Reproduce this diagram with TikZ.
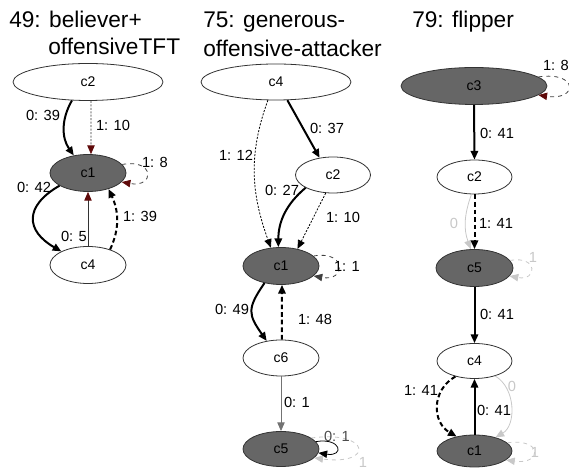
\documentclass[tikz,border=0pt]{standalone}
\usepackage{fontspec}
\setmainfont{Liberation Sans}
\usetikzlibrary{arrows.meta,shapes.geometric}
\definecolor{nodegray}{RGB}{102,102,102}
\definecolor{tipred}{RGB}{95,10,10}
\definecolor{faint}{RGB}{200,200,200}
\begin{document}
\begin{tikzpicture}[x=0.75pt,y=0.75pt,
  statenode/.style={ellipse,draw=black!80,line width=0.6pt,inner sep=0pt,font=\fontsize{10.5}{12}\selectfont},
  whitestate/.style={statenode,fill=white},
  graystate/.style={statenode,fill=nodegray},
  sz/.style 2 args={minimum width=#1*0.75pt,minimum height=#2*0.75pt},
  elabel/.style={inner sep=0pt,font=\fontsize{11}{13}\selectfont},
  faintlabel/.style={elabel,text=faint},
  titletext/.style={inner sep=0pt,anchor=base west,font=\fontsize{17}{20}\selectfont},
  arr/.style={-{Triangle[length=6.5pt,width=5.5pt]}},
  redarr/.style={-{Triangle[length=6.5pt,width=5.5pt,color=tipred]}},
  heavy/.style={line width=1.5pt,arr},
  slim/.style={line width=0.6pt},
  finedash/.style={dash pattern=on 1.5pt off 1.1pt},
  longdash/.style={dash pattern=on 3.5pt off 2.2pt},
  ghost/.style={draw=faint,line width=0.6pt,-{Triangle[length=6.5pt,width=5.5pt,color=faint]}},
]
\useasboundingbox (0,0) rectangle (569,-473);

% ---------- 49: believer+ offensiveTFT ----------
\node[titletext] (t49a) at (9,-28) {49: believer+};
\node[titletext] (t49b) at (48,-55) {offensiveTFT};
\node[whitestate,sz={150}{37}] (A2) at (88,-82) {c2};
\node[graystate,sz={76}{37}] (A1) at (88,-173) {c1};
\node[whitestate,sz={76}{37}] (A4) at (88,-265) {c4};

\draw[heavy] (A2.-131) to[out=-120,in=125] (A1.129);
\draw[slim,finedash,draw=black!80,redarr] (A2.-81) -- (A1.81);
\draw[slim,dashed,draw=black!75,redarr] (A1.14) .. controls +(33,6) and +(33,-6) .. (A1.-15);
\draw[heavy] (A1.-156) to[out=-150,in=150,looseness=1.6] (A4.153);
\draw[slim,draw=black!80,redarr] (A4.90) -- (A1.-90);
\draw[heavy,longdash] (A4.35) to[out=65,in=-65] (A1.-38);

\node[elabel] (a1) at (43,-115) {0: 39};
\node[elabel] (a2) at (113,-125) {1: 10};
\node[elabel] (a3) at (155,-162) {1: 8};
\node[elabel] (a4) at (34,-187) {0: 42};
\node[elabel] (a5) at (74,-236) {0: 5};
\node[elabel] (a6) at (140,-216) {1: 39};

% ---------- 75: generous-offensive-attacker ----------
\node[titletext] (t75a) at (203,-28) {75: generous-};
\node[titletext] (t75b) at (203,-57) {offensive-attacker};
\node[whitestate,sz={150}{36}] (B4) at (276,-82) {c4};
\node[whitestate,sz={75}{36}] (B2) at (333,-175) {c2};
\node[graystate,sz={76}{37}] (B1) at (281,-266) {c1};
\node[whitestate,sz={76}{36}] (B6) at (281,-358) {c6};
\node[graystate,sz={76}{35}] (B5) at (281,-449) {c5};

\draw[heavy] (B4.-58) -- (B2.128);
\draw[slim,finedash,arr] (B4.-114) to[out=-110,in=110] (B1.119);
\draw[heavy] (B2.-155) to[out=-140,in=90] (B1.98);
\draw[slim,finedash,arr] (B2.-112) -- (B1.46);
\draw[slim,dashed,draw=black!75,arr] (B1.17) .. controls +(33,6) and +(33,-6) .. (B1.-17);
\draw[heavy] (B1.-134) to[out=-125,in=125,looseness=1.4] (B6.130);
\draw[heavy,longdash] (B6.87) -- (B1.-87);
\draw[slim,draw=black!55,arr] (B6.-90) -- (B5.90);
\draw[ghost,dashed] (B5.20) .. controls +(60,8) and +(60,-8) .. (B5.-15);
\draw[slim,arr] (B5.12) .. controls +(26,4) and +(26,-4) .. (B5.-6);

\node[elabel] (b1) at (327,-128) {0: 37};
\node[elabel] (b2) at (236,-155) {1: 12};
\node[elabel] (b3) at (282,-190) {0: 27};
\node[elabel] (b4) at (343,-217) {1: 10};
\node[elabel] (b5) at (347,-266) {1: 1};
\node[elabel] (b6) at (232,-309) {0: 49};
\node[elabel] (b7) at (315,-319) {1: 48};
\node[elabel] (b8) at (297,-402) {0: 1};
\node[elabel,text=black!70] (b9) at (337,-436) {0: 1};
\node[faintlabel] (b10) at (363,-462) {1};

% ---------- 79: flipper ----------
\node[titletext] (t79) at (412,-28) {79: flipper};
\node[graystate,sz={146}{37}] (C3) at (474,-86) {c3};
\node[whitestate,sz={75}{34}] (C2) at (474.5,-177) {c2};
\node[graystate,sz={77}{37}] (C5) at (474.5,-268) {c5};
\node[whitestate,sz={75}{35}] (C4) at (474.5,-361) {c4};
\node[graystate,sz={75}{32}] (C1) at (474.5,-451) {c1};

\draw[slim,dashed,draw=black!75,redarr] (C3.8) .. controls +(40,6) and +(40,-6) .. (C3.-8);
\draw[heavy] (C3.-90) -- (C2.90);
\draw[ghost] (C2.-100) to[out=-110,in=110] (C5.101);
\draw[heavy,longdash] (C2.-90) -- (C5.90);
\draw[ghost,dashed] (C5.12) .. controls +(28,5) and +(28,-5) .. (C5.-13);
\draw[heavy] (C5.-90) -- (C4.90);
\draw[heavy,longdash] (C4.-141) to[out=-150,in=150,looseness=1.2] (C1.141);
\draw[heavy] (C1.90) -- (C4.-90);
\draw[ghost] (C4.-36) to[out=-30,in=30] (C1.33);
\draw[ghost,dashed] (C1.14) .. controls +(36,5) and +(36,-5) .. (C1.-16);

\node[elabel] (c1l) at (556,-65) {1: 8};
\node[elabel] (c2l) at (497,-133) {0: 41};
\node[elabel] (c3l) at (496,-223) {1: 41};
\node[faintlabel] (c4l) at (454,-223) {0};
\node[faintlabel] (c5l) at (533,-257) {1};
\node[elabel] (c6l) at (497,-314) {0: 41};
\node[elabel] (c7l) at (421,-390) {1: 41};
\node[elabel] (c8l) at (494,-410) {0: 41};
\node[faintlabel] (c9l) at (512,-386) {0};
\node[faintlabel] (c10l) at (535,-452) {1};
\end{tikzpicture}
\end{document}
